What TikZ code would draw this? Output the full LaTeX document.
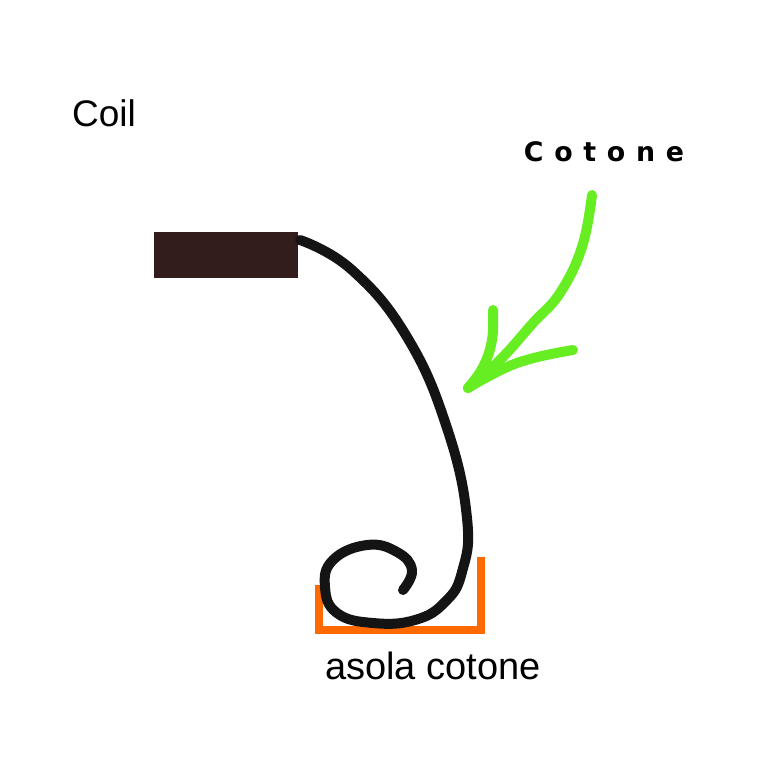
\documentclass[tikz,border=0pt]{standalone}
\usepackage{fontspec}
\setmainfont{Liberation Sans}
\newfontfamily\labelbold[LetterSpace=40]{DejaVu Sans Bold}
\definecolor{coilbrown}{RGB}{50,28,28}
\definecolor{cottonorange}{RGB}{255,106,0}
\definecolor{arrowgreen}{RGB}{102,238,34}
\begin{document}
\begin{tikzpicture}[x=0.5pt,y=-0.5pt,
  wire/.style={line width=5pt,line cap=round,line join=round,black!92},
  bracket/.style={line width=3.6pt,cottonorange},
  greenstroke/.style={line width=5pt,line cap=round,line join=round,arrowgreen},
  lbl/.style={inner sep=0pt,font=\fontsize{19}{21}\selectfont}]
\useasboundingbox[fill=white] (0,0) rectangle (768,768);
\node[lbl,font=\fontsize{18.5}{20}\selectfont] (coil) at (104,113) {Coil};
\node[inner sep=0pt,font=\labelbold\fontsize{13.4}{15}\selectfont] (cotone) at (604,152) {Cotone};
\node[lbl] (asola) at (433,666) {asola cotone};
% coil block
\node[draw=none,fill=coilbrown,minimum width=72pt,minimum height=23pt,inner sep=0pt] (block) at (226,255) {};
% bracket
\draw[bracket] (319,585) -- (319,630) -- (481,630) -- (481,557);
% wire
\draw[wire] plot[smooth,tension=0.75] coordinates {(300,240) (352,270) (407,337) (447,428) (467,518) (462,572) (445,602) (415,620) (373,623) (337,613) (325,587) (333,560) (367,545) (397,552) (412,570) (403,590)};
% green arrow
\draw[greenstroke] plot[smooth,tension=0.7] coordinates {(592,195) (582,247) (560,293) (533,323) (500,360) (468,388)};
\draw[greenstroke] plot[smooth,tension=0.7] coordinates {(493,310) (492,340) (483,367) (468,388)};
\draw[greenstroke] plot[smooth,tension=0.7] coordinates {(573,350) (517,363) (468,388)};
\end{tikzpicture}
\end{document}
